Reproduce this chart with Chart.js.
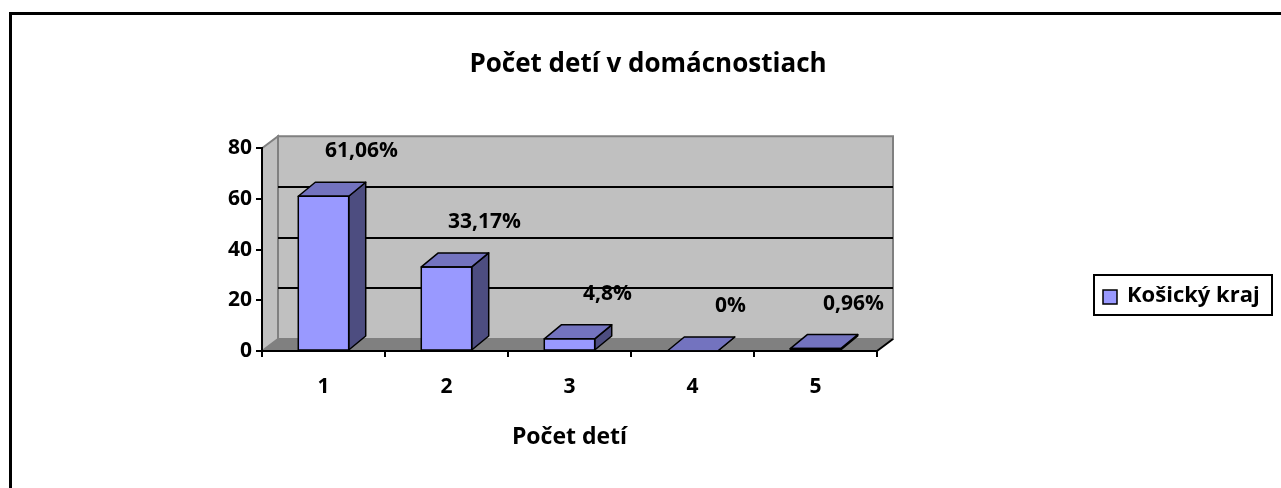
<!DOCTYPE html>
<html>
<head>
<meta charset="utf-8">
<script src="https://cdn.jsdelivr.net/npm/chart.js@4/dist/chart.umd.min.js"></script>
<style>
  html, body { margin: 0; padding: 0; background: #fff; }
  #wrap { width: 1281px; height: 488px; }
</style>
</head>
<body>
<div id="wrap"><canvas id="chart" width="1281" height="488"></canvas></div>
<script>
// data
const categories = ['1', '2', '3', '4', '5'];
const values = [61.06, 33.17, 4.8, 0, 0.96];
const valueLabels = ['61,06%', '33,17%', '4,8%', '0%', '0,96%'];
const yTicks = [0, 20, 40, 60, 80];
const seriesName = 'Košický kraj';
const chartTitle = 'Počet detí v domácnostiach';
const axisTitle = 'Počet detí';

const FONT = "'Open Sans', sans-serif";
const WALL_DX = 16, WALL_DY = -12;   // depth of the back wall / floor
const BAR_DX = 17, BAR_DY = -14;     // depth of the bars

function poly(ctx, pts) {
    ctx.beginPath();
    ctx.moveTo(pts[0][0], pts[0][1]);
    for (let i = 1; i < pts.length; i++) ctx.lineTo(pts[i][0], pts[i][1]);
    ctx.closePath();
}

// white page, frame line on the top and left
const frame = {
    id: 'frame',
    beforeDraw(chart) {
        const ctx = chart.ctx;
        ctx.save();
        ctx.fillStyle = '#fff';
        ctx.fillRect(0, 0, chart.width, chart.height);
        ctx.strokeStyle = '#000';
        ctx.lineWidth = 3;
        ctx.beginPath();
        ctx.moveTo(10.5, chart.height);
        ctx.lineTo(10.5, 13.5);
        ctx.lineTo(chart.width, 13.5);
        ctx.stroke();
        ctx.restore();
    }
};

// grey walls, floor and grid lines on the back wall
const walls = {
    id: 'walls',
    beforeDraw(chart) {
        const {ctx, chartArea: a, scales: {y}} = chart;
        const top = y.getPixelForValue(y.max), base = y.getPixelForValue(0);
        ctx.save();
        ctx.lineWidth = 2;
        ctx.strokeStyle = '#808080';
        ctx.fillStyle = '#c0c0c0';
        poly(ctx, [[a.left, top], [a.left + WALL_DX, top + WALL_DY], [a.left + WALL_DX, base + WALL_DY], [a.left, base]]);
        ctx.fill(); ctx.stroke();
        poly(ctx, [[a.left + WALL_DX, top + WALL_DY], [a.right + WALL_DX, top + WALL_DY], [a.right + WALL_DX, base + WALL_DY], [a.left + WALL_DX, base + WALL_DY]]);
        ctx.fill(); ctx.stroke();
        ctx.fillStyle = '#808080';
        poly(ctx, [[a.left, base], [a.right, base], [a.right + WALL_DX, base + WALL_DY], [a.left + WALL_DX, base + WALL_DY]]);
        ctx.fill();
        ctx.strokeStyle = '#000';
        ctx.beginPath();
        for (const v of yTicks) {
            if (v === 0 || v === y.max) continue;
            const py = Math.round(y.getPixelForValue(v) + WALL_DY);
            ctx.moveTo(a.left + WALL_DX, py);
            ctx.lineTo(a.right + WALL_DX, py);
        }
        ctx.moveTo(a.right, base);
        ctx.lineTo(a.right + WALL_DX, base + WALL_DY);
        ctx.stroke();
        ctx.restore();
    }
};

// top and side faces of the bars, then the value labels
const bars3d = {
    id: 'bars3d',
    afterDatasetsDraw(chart) {
        const ctx = chart.ctx;
        const meta = chart.getDatasetMeta(0);
        ctx.save();
        ctx.lineWidth = 1.5;
        ctx.strokeStyle = '#000';
        ctx.lineJoin = 'round';
        meta.data.forEach((bar, i) => {
            const l = bar.x - bar.width / 2, r = bar.x + bar.width / 2;
            ctx.fillStyle = '#4d4d80';
            poly(ctx, [[r, bar.y], [r + BAR_DX, bar.y + BAR_DY], [r + BAR_DX, bar.base + BAR_DY], [r, bar.base]]);
            ctx.fill(); ctx.stroke();
            ctx.fillStyle = '#7373bf';
            poly(ctx, [[l, bar.y], [r, bar.y], [r + BAR_DX, bar.y + BAR_DY], [l + BAR_DX, bar.y + BAR_DY]]);
            ctx.fill(); ctx.stroke();
            ctx.strokeRect(l, bar.y, bar.width, bar.base - bar.y);
        });
        ctx.fillStyle = '#000';
        ctx.font = 'bold 21px ' + FONT;
        ctx.textAlign = 'center';
        ctx.textBaseline = 'middle';
        meta.data.forEach((bar, i) => {
            ctx.fillText(valueLabels[i], bar.x + 38, bar.y - 45);
        });
        ctx.restore();
    }
};

// boxed legend on the right
const boxLegend = {
    id: 'boxLegend',
    afterDraw(chart) {
        const ctx = chart.ctx;
        const ds = chart.data.datasets[0];
        ctx.save();
        ctx.strokeStyle = '#000';
        ctx.lineWidth = 2;
        ctx.strokeRect(1094, 275, 178, 40);
        ctx.fillStyle = ds.backgroundColor;
        ctx.fillRect(1103, 290, 14, 14);
        ctx.lineWidth = 1.5;
        ctx.strokeRect(1103, 290, 14, 14);
        ctx.fillStyle = '#000';
        ctx.font = 'bold 22px ' + FONT;
        ctx.textBaseline = 'middle';
        ctx.fillText(ds.label, 1127, 296);
        ctx.restore();
    }
};

const boldFont = (size) => ({ family: FONT, size: size, weight: 'bold' });

new Chart(document.getElementById('chart'), {
    type: 'bar',
    data: {
        labels: categories,
        datasets: [{
            label: seriesName,
            data: values,
            backgroundColor: '#9999ff',
            borderColor: '#000',
            borderWidth: 0,
            barPercentage: 0.41,
            categoryPercentage: 1
        }]
    },
    options: {
        responsive: false,
        animation: false,
        events: [],
        layout: { padding: { left: 15, right: 0, top: 0, bottom: 0 } },
        plugins: {
            legend: { display: false },
            tooltip: { enabled: false },
            title: {
                display: true,
                text: chartTitle,
                color: '#000',
                font: boldFont(26),
                padding: { top: 49, bottom: 68 }
            }
        },
        scales: {
            x: {
                afterFit(scale) { scale.height = 137; },
                grid: { display: true, drawOnChartArea: false, color: '#000', lineWidth: 2, tickLength: 6, offset: true },
                border: { display: true, color: '#000', width: 2 },
                ticks: { color: '#000', padding: 17, font: boldFont(21) },
                title: {
                    display: true, text: axisTitle, color: '#000',
                    font: boldFont(23),
                    padding: { top: 0, bottom: 37 }
                }
            },
            y: {
                min: 0,
                max: 80,
                afterFit(scale) { scale.width = 247; },
                afterBuildTicks(scale) { scale.ticks = yTicks.map(v => ({value: v})); },
                grid: { display: true, drawOnChartArea: false, color: '#000', lineWidth: 2, tickLength: 6 },
                border: { display: true, color: '#000', width: 2 },
                ticks: { color: '#000', padding: 4, font: boldFont(21) }
            },
            // empty space on the right that holds the legend
            side: {
                position: 'right',
                afterFit(scale) { scale.width = 404; },
                grid: { display: false },
                border: { display: false },
                ticks: { display: false }
            }
        }
    },
    plugins: [frame, walls, bars3d, boxLegend]
});
</script>
</body>
</html>
